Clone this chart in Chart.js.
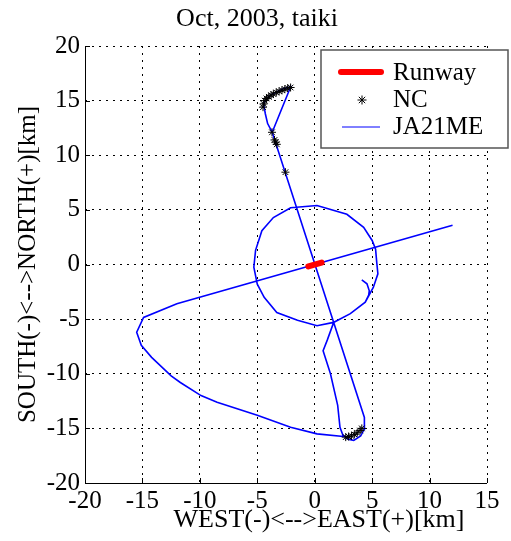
<!DOCTYPE html>
<html>
<head>
<meta charset="utf-8">
<script src="https://cdn.jsdelivr.net/npm/chart.js@4/dist/chart.umd.min.js"></script>
<style>
  html, body { margin: 0; padding: 0; background: #fff; }
  .warm { font-family: "Liberation Serif"; position: absolute; left: -999px; top: 0; }
</style>
</head>
<body>
<span class="warm">Oct 2003 WEST 0123456789</span>
<canvas id="chart" width="511" height="541"></canvas>
<script>
// ──────── DATA ────────
const xTicks = [-20, -15, -10, -5, 0, 5, 10, 15];
const yTicks = [-20, -15, -10, -5, 0, 5, 10, 15, 20];

const runwayX = [-0.55, 0.6];
const runwayY = [-0.17, 0.18];

// NC marks (asterisks)
const ncX = [-4.5, -4.45, -4.35, -4.2, -4.0, -3.8, -3.6, -3.35, -3.1, -2.85, -2.6, -2.35, -2.1,
             -3.72, -3.5, -3.4, -3.3, -2.55,
             2.7, 2.95, 3.2, 3.45, 3.7, 3.95, 4.1];
const ncY = [14.4, 14.7, 15.0, 15.2, 15.35, 15.5, 15.6, 15.75, 15.85, 15.95, 16.05, 16.15, 16.2,
             12.1, 11.4, 11.2, 11.0, 8.45,
             -15.8, -15.75, -15.7, -15.55, -15.4, -15.2, -15.0];

// JA21ME track (null = break)
const trackX = [4.1, 4.55, 4.75, 4.7, 4.4,
  3.1, 1.65, 0.2, -1.5, -3.3, -4.4, -5.0, -5.3, -5.15, -4.6, -3.6, -2.1, 0.2, 2.8, 4.26, 5.0, 5.3, 5.4, 5.5, 5.1, 4.4, 3.1, 1.65,
  1.1, 0.73, 1.37, 2.0, 2.2, 2.45, 2.9, 3.4, 4.0, 4.3, 4.35, 4.3,
  -3.7, -4.1, -4.3, -4.45, -4.3, -3.85, -3.3, -2.7, -2.1, -3.7,
  null,
  12.0, -12.0, -14.9, -15.5, -15.1, -14.2, -12.5, -11.7, -9.9, -8.5, -5.0, -2.1, 0.2, 2.5, 3.0];
const trackY = [-1.4, -1.77, -2.4, -2.8, -3.45,
  -4.5, -5.3, -5.6, -5.1, -4.4, -3.0, -1.8, -0.25, 1.3, 3.1, 4.3, 5.2, 5.4, 4.6, 3.4, 2.2, 1.4, 0.2, -0.85, -2.1, -3.45, -4.5, -5.3,
  -6.9, -7.9, -10.0, -12.9, -14.9, -15.6, -16.0, -16.1, -15.7, -15.1, -14.6, -14.0,
  12.1, 12.9, 13.8, 14.7, 15.05, 15.5, 15.8, 16.1, 16.25, 12.1,
  null,
  3.6, -3.6, -4.85, -6.2, -7.4, -8.5, -10.2, -10.8, -12.0, -12.6, -13.8, -14.9, -15.5, -15.75, -15.8];

const toPts = (xs, ys) => xs.map((x, i) => ({ x: x, y: ys[i] }));

// ──────── EXTRAS: title, axis labels, axis lines, inward ticks, legend ────────
const serif = "'Liberation Serif', serif";
const extras = {
  id: "extras",
  afterDraw(chart) {
    const { ctx, chartArea: a, scales: { x, y } } = chart;
    ctx.save();
    ctx.fillStyle = "#000";
    ctx.textAlign = "center";
    ctx.textBaseline = "alphabetic";
    ctx.font = "26px " + serif;
    ctx.fillText("Oct, 2003, taiki", 257, 26);
    ctx.fillText("WEST(-)<-->EAST(+)[km]", 319, 527);
    ctx.save();
    ctx.translate(28, (a.top + a.bottom) / 2);
    ctx.rotate(-Math.PI / 2);
    ctx.textBaseline = "middle";
    ctx.font = "25px " + serif;
    ctx.fillText("SOUTH(-)<-->NORTH(+)[km]", 0, 0);
    ctx.restore();

    // axes (left + bottom only) with inward ticks
    ctx.strokeStyle = "#000";
    ctx.lineWidth = 1;
    ctx.beginPath();
    ctx.moveTo(a.left + 0.5, a.top);
    ctx.lineTo(a.left + 0.5, a.bottom + 0.5);
    ctx.lineTo(a.right, a.bottom + 0.5);
    xTicks.forEach(v => {
      const px = Math.round(x.getPixelForValue(v)) + 0.5;
      ctx.moveTo(px, a.bottom);
      ctx.lineTo(px, a.bottom - 5);
    });
    yTicks.forEach(v => {
      const py = Math.round(y.getPixelForValue(v)) + 0.5;
      ctx.moveTo(a.left, py);
      ctx.lineTo(a.left + 5, py);
    });
    ctx.stroke();

    // legend
    const L = 321, T = 50, R = 508, B = 148;
    ctx.fillStyle = "#fff";
    ctx.fillRect(L, T, R - L, B - T);
    ctx.strokeStyle = "#555";
    ctx.lineWidth = 1.5;
    ctx.strokeRect(L, T, R - L, B - T);
    ctx.lineCap = "round";
    ctx.strokeStyle = "#ff0000";
    ctx.lineWidth = 6;
    ctx.beginPath(); ctx.moveTo(341, 72); ctx.lineTo(381, 72); ctx.stroke();
    ctx.strokeStyle = "#0000ff";
    ctx.lineWidth = 1;
    ctx.lineCap = "butt";
    ctx.beginPath(); ctx.moveTo(342, 127); ctx.lineTo(380, 127); ctx.stroke();
    ctx.strokeStyle = "#000";
    ctx.fillStyle = "#000";
    Chart.helpers.drawPoint(ctx, { pointStyle: "star", radius: 4.5, borderWidth: 1 }, 362, 100);
    ctx.textAlign = "left";
    ctx.textBaseline = "middle";
    ctx.font = "25px " + serif;
    ctx.fillText("Runway", 393, 73);
    ctx.fillText("NC", 393, 100);
    ctx.fillText("JA21ME", 393, 127);
    ctx.restore();
  }
};

// ──────── CHART ────────
const draw = () => {
  const ctx = document.getElementById("chart").getContext("2d");
  new Chart(ctx, {
    type: "scatter",
    data: {
      datasets: [
        {
          label: "Runway",
          data: toPts(runwayX, runwayY),
          showLine: true,
          borderColor: "#ff0000",
          borderWidth: 6,
          borderCapStyle: "round",
          pointRadius: 0
        },
        {
          label: "NC",
          data: toPts(ncX, ncY),
          showLine: false,
          pointStyle: "star",
          pointRadius: 4,
          borderColor: "#000",
          backgroundColor: "#000",
          pointBorderWidth: 1
        },
        {
          label: "JA21ME",
          data: toPts(trackX, trackY),
          showLine: true,
          spanGaps: false,
          borderColor: "#0000ff",
          borderWidth: 1.6,
          pointRadius: 0,
          tension: 0
        }
      ]
    },
    options: {
      responsive: false,
      animation: false,
      layout: { padding: { left: 0, right: 24, top: 46, bottom: 0 } },
      plugins: { legend: { display: false }, tooltip: { enabled: false } },
      scales: {
        x: {
          type: "linear",
          min: -20, max: 15,
          afterFit: s => { s.height = 58; },
          afterBuildTicks: s => { s.ticks = xTicks.map(v => ({ value: v })); },
          ticks: { color: "#000", padding: 3, font: { family: serif, size: 25 } },
          grid: { color: "#000", lineWidth: 1, drawTicks: false },
          border: { display: false, dash: [2, 5] }
        },
        y: {
          type: "linear",
          min: -20, max: 20,
          afterFit: s => { s.width = 85; },
          afterBuildTicks: s => { s.ticks = yTicks.map(v => ({ value: v })); },
          ticks: { color: "#000", padding: 5, font: { family: serif, size: 25 } },
          grid: { color: "#000", lineWidth: 1, drawTicks: false },
          border: { display: false, dash: [2, 5] }
        }
      }
    },
    plugins: [extras]
  });
};

document.fonts.load("25px 'Liberation Serif'").then(draw, draw);
</script>
</body>
</html>
